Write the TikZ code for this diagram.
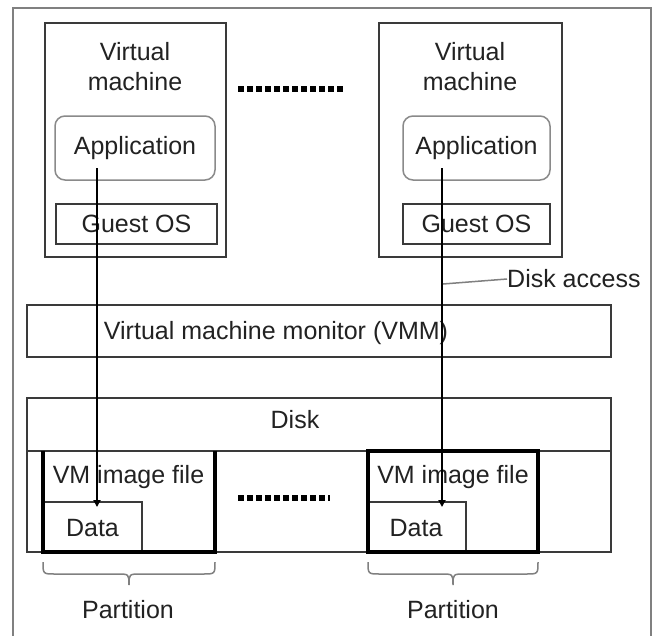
\documentclass[tikz,border=0pt]{standalone}
\usepackage{fontspec}
\setmainfont{Liberation Sans}
\usetikzlibrary{arrows.meta}
\definecolor{ink}{HTML}{222222}
\definecolor{boxline}{HTML}{3A3A3A}
\definecolor{frameline}{HTML}{808080}
\definecolor{appline}{HTML}{8A8A8A}
\tikzset{
  box/.style={draw=boxline, line width=2pt, minimum width=#1, inner sep=0pt},
  lbl/.style={text=ink, font=\fontsize{25}{30}\selectfont, inner sep=0pt, align=center},
  appbox/.style={draw=appline, line width=1.5pt, rounded corners=10pt, inner sep=0pt},
  thickbox/.style={draw=black, line width=3.5pt},
  dots/.style={line width=6pt, dash pattern=on 6pt off 3pt, black},
  access/.style={line width=2.5pt, black, -{Triangle[length=7pt,width=7pt]}},
  pbrace/.style={draw=gray, line width=1.5pt},
}
\begin{document}
\begin{tikzpicture}[x=1pt,y=-1pt]
\useasboundingbox (0,0) rectangle (656,635);
\fill[white] (0,0) rectangle (656,635);
% outer frame
\draw[frameline, line width=2.5pt] (13,640) -- (13,8) -- (651,8) -- (651,640);

% left virtual machine
\node[box=181pt, minimum height=234pt] (vm1) at (135.5,140) {};
\node[lbl] (vm1t) at (135,67) {Virtual\\machine};
\node[appbox, minimum width=160pt, minimum height=64pt] (app1) at (135,148) {};
\node[lbl] (app1t) at (135,148) {Application};
\node[box=161pt, minimum height=40pt] (gos1) at (136.5,224) {};
\node[lbl] (gos1t) at (136.5,224) {Guest OS};

% right virtual machine
\node[box=183pt, minimum height=234pt] (vm2) at (470.5,140) {};
\node[lbl] (vm2t) at (470,67) {Virtual\\machine};
\node[appbox, minimum width=147pt, minimum height=64pt] (app2) at (476.5,148) {};
\node[lbl] (app2t) at (476.5,148) {Application};
\node[box=147pt, minimum height=40pt] (gos2) at (476.5,224) {};
\node[lbl] (gos2t) at (476.5,224) {Guest OS};

% dots between VMs
\coordinate (dt1) at (238,89);
\coordinate (dt2) at (345,89);
\draw[dots] (dt1) -- (dt2);

% VMM
\node[box=584pt, minimum height=52pt] (vmm) at (319,331) {};
\node[lbl] (vmmt) at (276,333) {Virtual machine monitor (VMM)};

% Disk
\node[box=584pt, minimum height=53pt] (disk) at (319,424.5) {};
\node[lbl] (diskt) at (295,420) {Disk};
\node[box=584pt, minimum height=101pt] (disklow) at (319,501.5) {};

% left partition
\node[minimum width=172pt, minimum height=101pt, inner sep=0pt] (part1) at (129,501.5) {};
\node[draw=boxline, line width=1.5pt, minimum width=99pt, minimum height=50pt, inner sep=0pt] (data1) at (92.5,527) {};
\draw[thickbox] (part1.north west) -- (part1.south west) -- (part1.south east) -- (part1.north east);
\node[lbl] (img1) at (128.5,477) {VM image file};
\node[lbl] (data1t) at (92.5,528) {Data};

% right partition
\node[minimum width=170pt, minimum height=101pt, inner sep=0pt] (part2) at (453,501.5) {};
\node[draw=boxline, line width=1.5pt, minimum width=98pt, minimum height=50pt, inner sep=0pt] (data2) at (417,527) {};
\draw[thickbox] (part2.north west) rectangle (part2.south east);
\node[lbl] (img2) at (453,477) {VM image file};
\node[lbl] (data2t) at (416,528) {Data};

% dots between partitions
\coordinate (db1) at (238,498);
\coordinate (db2) at (330,498);
\draw[dots] (db1) -- (db2);

% disk access arrows
\coordinate (s1) at (97,168);
\coordinate (e1) at (97,507);
\coordinate (s2) at (442,168);
\coordinate (e2) at (442,507);
\draw[access] (s1) -- (e1);
\draw[access] (s2) -- (e2);

% disk access label
\node[lbl, anchor=west] (da) at (507,279) {Disk access};
\coordinate (daL) at (443,284);
\draw[gray, line width=1.5pt] (daL) -- (da.west);

% braces
\draw[pbrace] (43,562) .. controls (43,574) and (43,574) .. (55,574)
  -- (117,574) .. controls (129,574) and (129,574) .. (129,585)
  .. controls (129,574) and (129,574) .. (141,574)
  -- (203,574) .. controls (215,574) and (215,574) .. (215,562);
\draw[pbrace] (368,562) .. controls (368,574) and (368,574) .. (380,574)
  -- (441,574) .. controls (453,574) and (453,574) .. (453,585)
  .. controls (453,574) and (453,574) .. (465,574)
  -- (526,574) .. controls (538,574) and (538,574) .. (538,562);
\node[lbl] (p1) at (128,610) {Partition};
\node[lbl] (p2) at (453,610) {Partition};
\end{tikzpicture}
\end{document}
